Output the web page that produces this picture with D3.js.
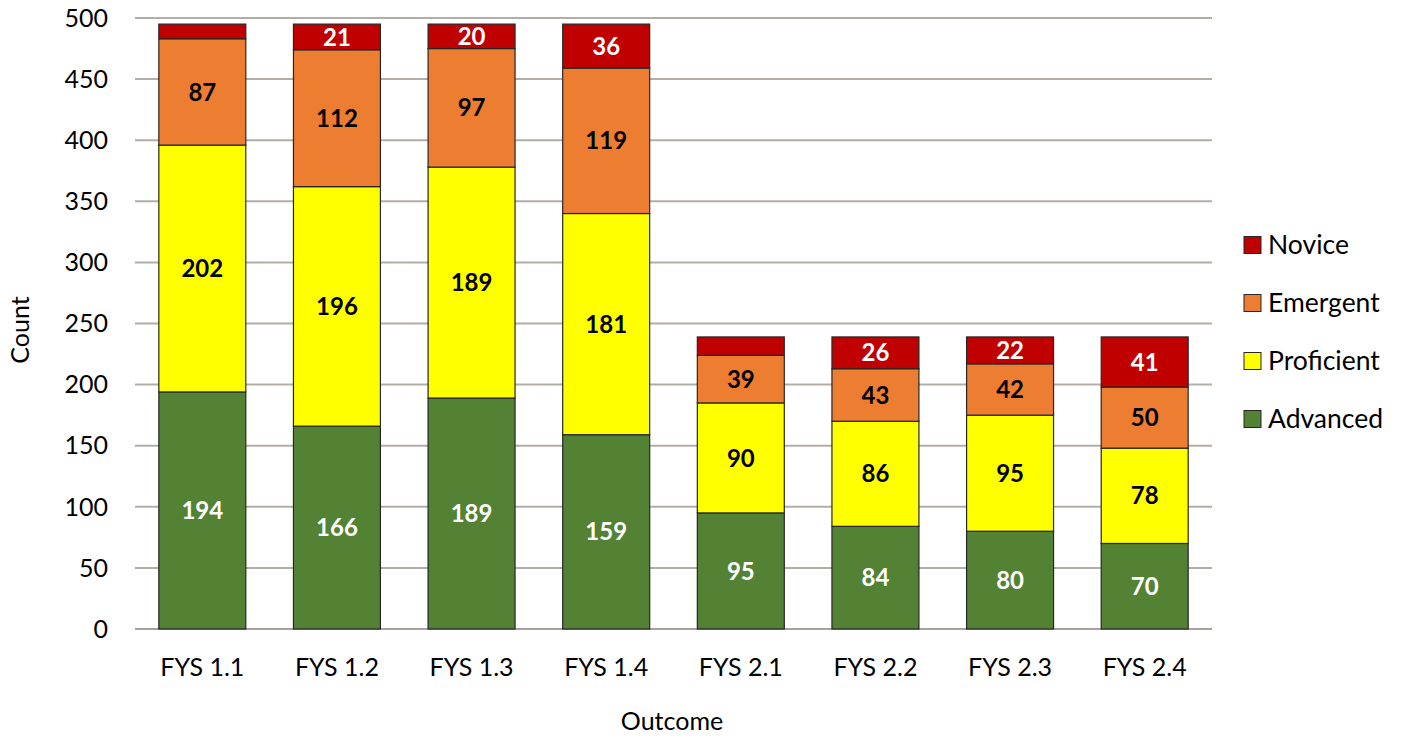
<!DOCTYPE html>
<html><head><meta charset="utf-8">
<script src="https://cdn.jsdelivr.net/npm/d3@7"></script>
<style>body{margin:0;background:#fff}svg{display:block;font-family:Lato,"Open Sans",sans-serif}</style>
</head><body><svg id="c" width="1406" height="738"></svg>
<script>
const categories = ["FYS 1.1","FYS 1.2","FYS 1.3","FYS 1.4","FYS 2.1","FYS 2.2","FYS 2.3","FYS 2.4"];
const advanced   = [194,166,189,159,95,84,80,70];
const proficient = [202,196,189,181,90,86,95,78];
const emergent   = [87,112,97,119,39,43,42,50];
const novice     = [12,21,20,36,15,26,22,41];
const seriesNames = ["Advanced","Proficient","Emergent","Novice"];
const yTicks = [0,50,100,150,200,250,300,350,400,450,500];

(function(){
const colors = {Advanced:"#548235",Proficient:"#ffff00",Emergent:"#ed7d31",Novice:"#c00000"};
const labelColors = {Advanced:"#ffffff",Proficient:"#000000",Emergent:"#000000",Novice:"#ffffff"};
const seriesVals = {Advanced:advanced,Proficient:proficient,Emergent:emergent,Novice:novice};

const svg = d3.select("#c");
const pLeft=135,pRight=1212,pTop=18,pBottom=629;
const x = d3.scaleBand().domain(categories).range([pLeft,pRight]).paddingInner(0.354).paddingOuter(0.177);
const y = d3.scaleLinear().domain([0,500]).range([pBottom,pTop]);

const rows = categories.map((c,i)=>{const o={cat:c};seriesNames.forEach(s=>o[s]=seriesVals[s][i]);return o;});
const stacked = d3.stack().keys(seriesNames)(rows);

// gridlines
svg.append("g").selectAll("line").data(yTicks).join("line")
  .attr("x1",pLeft).attr("x2",pRight)
  .attr("y1",d=>y(d)).attr("y2",d=>y(d))
  .attr("stroke",d=>d===0?"#a8a29c":"#b3ada8").attr("stroke-width",2);

// y tick labels
svg.append("g").selectAll("text").data(yTicks).join("text")
  .attr("x",108).attr("y",d=>y(d)).attr("dy","0.35em")
  .attr("text-anchor","end").attr("font-size",25).attr("fill","#000").text(d=>d);

// bars
const g = svg.append("g");
stacked.forEach(layer=>{
  const name = layer.key;
  g.append("g").selectAll("rect").data(layer).join("rect")
    .attr("x",d=>x(d.data.cat)).attr("width",x.bandwidth())
    .attr("y",d=>y(d[1])).attr("height",d=>y(d[0])-y(d[1]))
    .attr("fill",colors[name]).attr("stroke","#262626").attr("stroke-width",1.2);
});
stacked.forEach(layer=>{
  const name = layer.key;
  g.append("g").selectAll("text").data(layer.filter(d=>d[1]-d[0]>16)).join("text")
    .attr("x",d=>x(d.data.cat)+x.bandwidth()/2)
    .attr("y",d=>(y(d[0])+y(d[1]))/2).attr("dy","0.36em")
    .attr("text-anchor","middle").attr("font-size",24).attr("font-weight","bold")
    .attr("fill",labelColors[name]).text(d=>d[1]-d[0]);
});

// x tick labels
svg.append("g").selectAll("text").data(categories).join("text")
  .attr("x",d=>x(d)+x.bandwidth()/2).attr("y",676)
  .attr("text-anchor","middle").attr("font-size",25).attr("fill","#000").text(d=>d);

// axis titles
svg.append("text").attr("x",672).attr("y",730).attr("text-anchor","middle")
  .attr("font-size",25).text("Outcome");
svg.append("text").attr("transform","translate(29,330) rotate(-90)").attr("text-anchor","middle")
  .attr("font-size",25).text("Count");

// legend
const legendOrder = ["Novice","Emergent","Proficient","Advanced"];
const lg = svg.append("g").selectAll("g").data(legendOrder).join("g")
  .attr("transform",(d,i)=>`translate(1244,${245+i*58})`);
lg.append("rect").attr("x",0).attr("y",-8.5).attr("width",17).attr("height",17)
  .attr("fill",d=>colors[d]).attr("stroke","#262626").attr("stroke-width",1);
lg.append("text").attr("x",24).attr("y",0).attr("dy","0.35em").attr("font-size",26.5).text(d=>d);
})();
</script></body></html>
